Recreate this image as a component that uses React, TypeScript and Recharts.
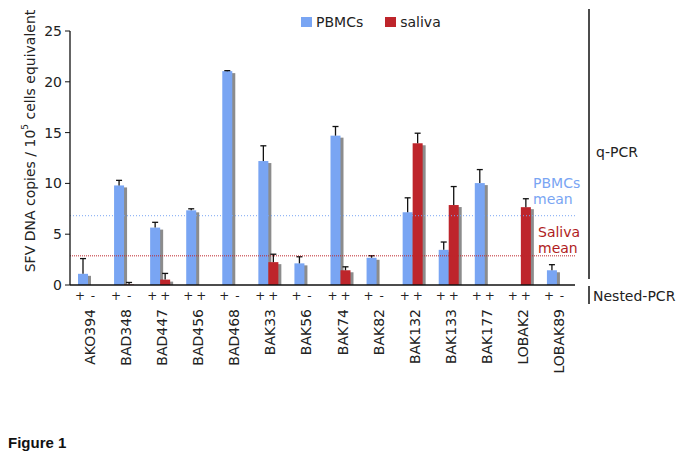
import React from "react";
import { BarChart, Bar, XAxis, YAxis, ReferenceLine, Legend } from "recharts";

const categories = ["AKO394", "BAD348", "BAD447", "BAD456", "BAD468", "BAK33", "BAK56", "BAK74", "BAK82", "BAK132", "BAK133", "BAK177", "LOBAK2", "LOBAK89"];
const pbmcs = [1.1, 9.8, 5.65, 7.35, 21.05, 12.2, 2.13, 14.7, 2.68, 7.16, 3.46, 10.03, null, 1.45];
const pbmcsErr = [1.5, 0.5, 0.52, 0.15, 0.05, 1.5, 0.65, 0.9, 0.2, 1.42, 0.77, 1.33, null, 0.55];
const saliva = [null, 0.05, 0.53, null, null, 2.25, null, 1.45, null, 13.95, 7.87, null, 7.66, null];
const salivaErr = [null, 0.2, 0.61, null, null, 0.78, null, 0.34, null, 0.99, 1.82, null, 0.83, null];
const nestedPbmcs = ["+", "+", "+", "+", "+", "+", "+", "+", "+", "+", "+", "+", "+", "+"];
const nestedSaliva = ["-", "-", "+", "+", "-", "+", "-", "+", "-", "+", "+", "+", "+", "-"];
const yTicks = [0, 5, 10, 15, 20, 25];
const pbmcsMean = 6.82;
const salivaMean = 2.87;

const BLUE = "#79a5f3";
const RED = "#be252b";
const FONT = "DejaVu Sans, Verdana, sans-serif";

const data = categories.map((name, i) => ({
  name,
  pbmcs: pbmcs[i],
  pbmcsErr: pbmcsErr[i],
  saliva: saliva[i],
  salivaErr: salivaErr[i],
}));

// bar with grey drop shadow and an upper-only error whisker
const makeShape = (errKey: string) => (props: any) => {
  const { x, y, width, height, fill, payload, value } = props;
  const v = Array.isArray(value) ? value[1] - value[0] : value;
  if (v == null || height == null) return null;
  const err = payload?.[errKey];
  const perUnit = v ? height / v : 0;
  const cx = x + width / 2;
  const top = err ? y - err * perUnit : y;
  return (
    <g>
      <rect x={x + 3} y={y + 2} width={width} height={Math.max(0, height - 2)} fill="#8c8c8c" />
      <rect x={x} y={y} width={width} height={height} fill={fill} />
      {err ? (
        <g stroke="#111" strokeWidth={1.3}>
          <line x1={cx} x2={cx} y1={y} y2={top} />
          <line x1={cx - 3} x2={cx + 3} y1={top} y2={top} />
        </g>
      ) : null}
    </g>
  );
};

const CategoryTick = (props: any) => {
  const { x, y, payload, index } = props;
  return (
    <g fontFamily={FONT} fill="#222">
      <text x={x - 8} y={y + 15} fontSize={12} textAnchor="middle">{nestedPbmcs[index]}</text>
      <text x={x + 5} y={y + 15} fontSize={12} textAnchor="middle">{nestedSaliva[index]}</text>
      <text x={x + 7} y={y + 24} fontSize={14} textAnchor="end" transform={`rotate(-90, ${x + 7}, ${y + 24})`}>
        {payload.value}
      </text>
    </g>
  );
};

const MeanLabel = (lines: string[], color: string, dx: number, dy: number[]) => (props: any) => {
  const { viewBox } = props;
  const right = viewBox.x + viewBox.width;
  return (
    <text fontFamily={FONT} fontSize={14} fill={color}>
      {lines.map((l, i) => (
        <tspan key={l} x={right - 42 + dx} y={viewBox.y + dy[i]}>{l}</tspan>
      ))}
    </text>
  );
};

const renderLegend = () => (
  <div style={{ display: "flex", fontFamily: FONT, fontSize: 14, color: "#222", alignItems: "center" }}>
    <span style={{ width: 11, height: 10, background: BLUE, display: "inline-block", marginRight: 4 }} />
    <span style={{ marginRight: 22 }}>PBMCs</span>
    <span style={{ width: 11, height: 10, background: RED, display: "inline-block", marginRight: 4 }} />
    <span>saliva</span>
  </div>
);

export default function App() {
  return (
    <div style={{ position: "absolute", left: 0, top: 0, width: 683, height: 459, background: "#fff" }}>
      <BarChart
        width={683}
        height={459}
        data={data}
        margin={{ top: 15, right: 108, bottom: 74, left: 0 }}
        barSize={10}
        barGap={0}
      >
        <XAxis
          dataKey="name"
          height={100}
          interval={0}
          tickLine={false}
          tickSize={0}
          tickMargin={0}
          axisLine={{ stroke: "#111", strokeWidth: 1.3 }}
          tick={<CategoryTick />}
        />
        <YAxis
          width={70}
          domain={[0, 25]}
          ticks={yTicks}
          axisLine={{ stroke: "#111", strokeWidth: 1.3 }}
          tickLine={{ stroke: "#111" }}
          tickSize={5}
          tickMargin={3}
          tick={{ fontFamily: FONT, fontSize: 14, fill: "#222" }}
        />
        <Legend
          verticalAlign="top"
          content={renderLegend}
          wrapperStyle={{ position: "absolute", top: 14, left: 301, width: 200 }}
        />
        <ReferenceLine
          y={pbmcsMean}
          stroke={BLUE}
          strokeDasharray="1 2"
          label={MeanLabel(["PBMCs", "mean"], BLUE, 0, [-28, -12])}
        />
        <ReferenceLine
          y={salivaMean}
          stroke={RED}
          strokeDasharray="1 1"
          label={MeanLabel(["Saliva", "mean"], "#b01c22", 5, [-19, -3])}
        />
        <Bar dataKey="pbmcs" fill={BLUE} shape={makeShape("pbmcsErr")} isAnimationActive={false} />
        <Bar dataKey="saliva" fill={RED} shape={makeShape("salivaErr")} isAnimationActive={false} />
      </BarChart>
      <svg
        width={683}
        height={459}
        style={{ position: "absolute", left: 0, top: 0, pointerEvents: "none" }}
        fontFamily={FONT}
      >
        <text x={35} y={141} fontSize={14} fill="#222" textAnchor="middle" transform="rotate(-90, 35, 141)">
          SFV DNA copies / 10
          <tspan fontSize={9} dy={-7}>5</tspan>
          <tspan dy={7}>{"  cells equivalent"}</tspan>
        </text>
        <line x1={589} x2={589} y1={9} y2={279} stroke="#111" strokeWidth={1.5} />
        <text x={596} y={157} fontSize={14} fill="#222">q-PCR</text>
        <line x1={589} x2={589} y1={286} y2={304} stroke="#111" strokeWidth={1.5} />
        <text x={593} y={301} fontSize={14} fill="#222">Nested-PCR</text>
        <text x={8} y={448} fontSize={15} fontWeight="bold" fontFamily="Liberation Sans, Arial, sans-serif" fill="#111">
          Figure 1
        </text>
      </svg>
    </div>
  );
}
